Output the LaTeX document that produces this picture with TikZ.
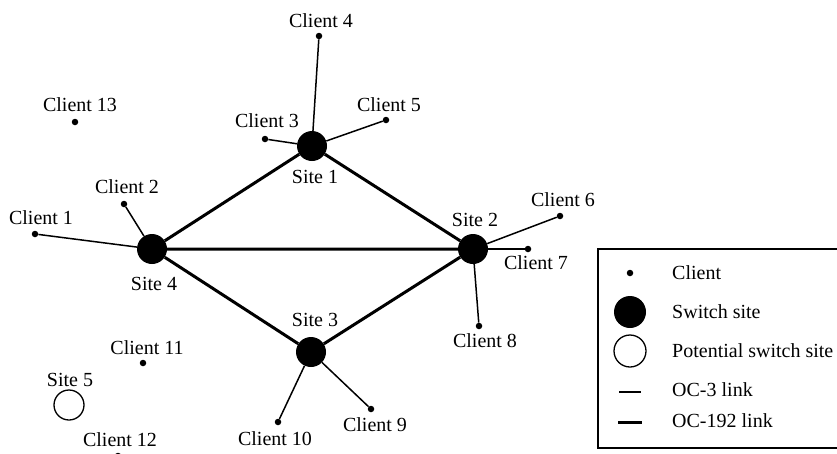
\documentclass[tikz,border=0pt]{standalone}
\usepackage{fontspec}
\setmainfont{Liberation Serif}
\begin{document}
\begin{tikzpicture}[x=1pt,y=-1pt,
  client/.style={circle, fill=black, inner sep=0pt, minimum size=6.5pt},
  site/.style={circle, fill=black, inner sep=0pt, minimum size=30pt},
  potential/.style={circle, draw=black, line width=1.3pt, fill=white, inner sep=0pt, minimum size=30pt},
  lbl/.style={font=\fontsize{20}{22}\selectfont, inner sep=0pt},
  oc3/.style={line width=1.5pt},
  oc192/.style={line width=3pt},
  legendbox/.style={draw=black, line width=1.3pt}]
\useasboundingbox (0,0) rectangle (837,453);

% switch sites
\node[site] (s1) at (312,146) {};
\node[site] (s2) at (473,249) {};
\node[site] (s3) at (311,352) {};
\node[site] (s4) at (152,249) {};
\node[potential] (s5) at (69,405) {};

% clients
\node[client] (c1) at (35,234) {};
\node[client] (c2) at (124,204) {};
\node[client] (c3) at (265,139) {};
\node[client] (c4) at (319,36) {};
\node[client] (c5) at (386,120) {};
\node[client] (c6) at (560,216) {};
\node[client] (c7) at (528,249) {};
\node[client] (c8) at (479,326) {};
\node[client] (c9) at (371,409) {};
\node[client] (c10) at (278,422) {};
\node[client] (c11) at (143,363) {};
\node[client] (c12) at (118,456) {};
\node[client] (c13) at (75,122) {};

% backbone links (OC-192)
\draw[oc192] (s4) -- (s1) -- (s2) -- (s3) -- (s4) -- (s2);

% access links (OC-3)
\draw[oc3] (s4) -- (c1);
\draw[oc3] (s4) -- (c2);
\draw[oc3] (s1) -- (c3);
\draw[oc3] (s1) -- (c4);
\draw[oc3] (s1) -- (c5);
\draw[oc3] (s2) -- (c6);
\draw[oc3] (s2) -- (c7);
\draw[oc3] (s2) -- (c8);
\draw[oc3] (s3) -- (c9);
\draw[oc3] (s3) -- (c10);

% labels
\node[lbl] (ls1) at (315,177) {Site 1};
\node[lbl] (ls2) at (475,220) {Site 2};
\node[lbl] (ls3) at (315,320) {Site 3};
\node[lbl] (ls4) at (154,284) {Site 4};
\node[lbl] (ls5) at (70,380) {Site 5};
\node[lbl] (lc1) at (41,218) {Client 1};
\node[lbl] (lc2) at (127,187) {Client 2};
\node[lbl] (lc3) at (267,121) {Client 3};
\node[lbl] (lc4) at (321,21) {Client 4};
\node[lbl] (lc5) at (389,105) {Client 5};
\node[lbl] (lc6) at (563,200) {Client 6};
\node[lbl] (lc7) at (536,263) {Client 7};
\node[lbl] (lc8) at (485,341) {Client 8};
\node[lbl] (lc9) at (375,425) {Client 9};
\node[lbl] (lc10) at (275,439) {Client 10};
\node[lbl] (lc11) at (147,348) {Client 11};
\node[lbl] (lc12) at (120,440) {Client 12};
\node[lbl] (lc13) at (80,105) {Client 13};

% legend
\draw[legendbox] (598,249) rectangle (845,448);
\node[client] (kc) at (630,273) {};
\node[lbl, anchor=west] (kct) at (672,273) {Client};
\node[site, minimum size=32pt] (ks) at (630,312) {};
\node[lbl, anchor=west] (kst) at (672,312) {Switch site};
\node[potential, minimum size=32pt] (kp) at (630,351) {};
\node[lbl, anchor=west] (kpt) at (672,351) {Potential switch site};
\coordinate (ka1) at (619,392);
\coordinate (ka2) at (641,392);
\draw[oc3] (ka1) -- (ka2);
\node[lbl, anchor=west] (kat) at (672,390) {OC-3 link};
\coordinate (kb1) at (618,422);
\coordinate (kb2) at (642,422);
\draw[oc192] (kb1) -- (kb2);
\node[lbl, anchor=west] (kbt) at (672,421) {OC-192 link};
\end{tikzpicture}
\end{document}
